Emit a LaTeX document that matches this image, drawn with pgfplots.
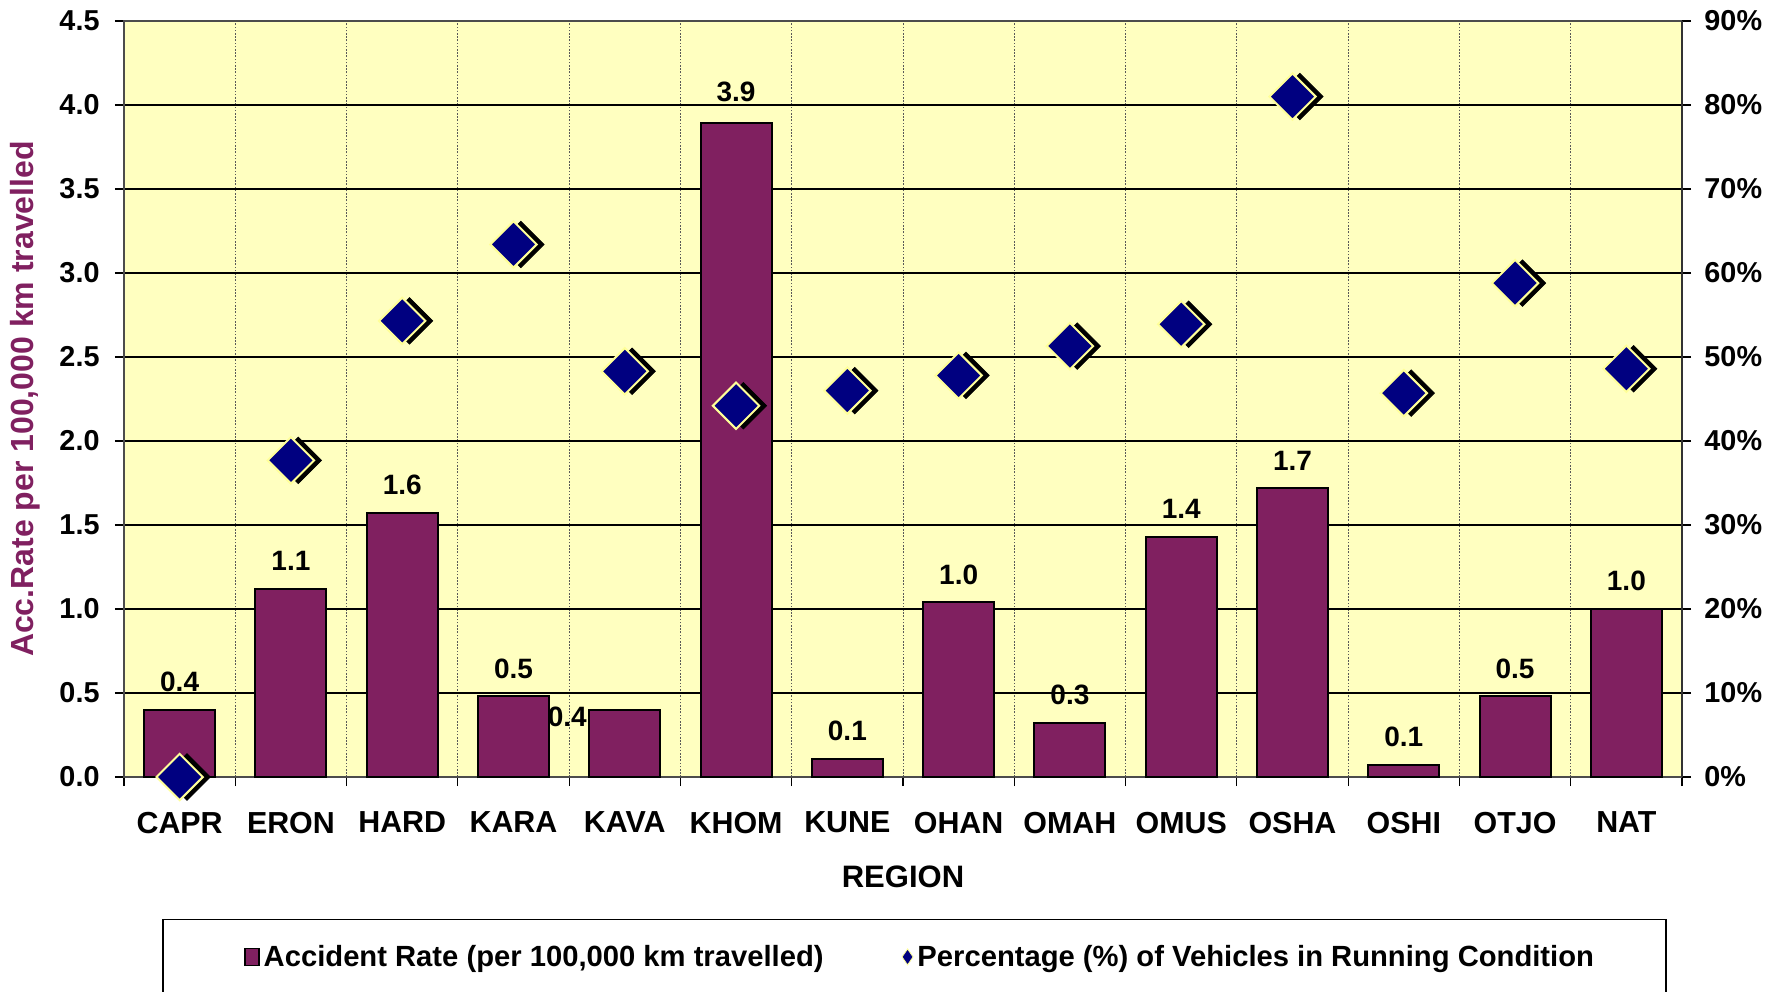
\documentclass[border=0pt]{standalone}
\usepackage{fontspec}
\setmainfont{Liberation Sans}
\usepackage{pgfplots}
\usepackage{pgfplotstable}
\pgfplotsset{compat=1.18}
\pgfplotsset{/pgf/number format/assume math mode=true}
\definecolor{barpurple}{RGB}{128,32,96}
\definecolor{plotbg}{RGB}{255,255,192}
\definecolor{dianavy}{RGB}{0,0,128}
\definecolor{diaedge}{RGB}{255,255,153}

% accident rate per region, label offsets (pt)
\pgfplotstableread{
x rate dx dy
0 0.40 0 8.5
1 1.12 0 8.5
2 1.57 0 8.5
3 0.48 0 8.5
4 0.40 -28.75 -9
5 3.89 0 10.5
6 0.11 0 8.5
7 1.04 0 8.5
8 0.32 0 8.5
9 1.43 0 8.5
10 1.72 0 8.5
11 0.07 0 8.5
12 0.48 0 8.5
13 1.00 0 8.5
}\ratetable

% percentage of vehicles in running condition
\pgfplotstableread{
x pct
0 0
1 37.7
2 54.3
3 63.4
4 48.3
5 44.2
6 46.0
7 47.8
8 51.3
9 53.9
10 81.0
11 45.7
12 58.8
13 48.6
}\pcttable

\begin{document}
\begin{tikzpicture}[font=\bfseries\fontsize{14.4}{17}\selectfont]
\begin{axis}[
  scale only axis, width=779pt, height=378pt,
  xmin=-0.5, xmax=13.5, ymin=0, ymax=4.5,
  axis background/.style={fill=plotbg},
  axis line style={black!70, line width=1pt},
  ytick={0,0.5,1,1.5,2,2.5,3,3.5,4,4.5},
  ytick pos=left,
  yticklabel style={xshift=-4.2pt, /pgf/number format/.cd, fixed, fixed zerofill, precision=1},
  xtick={0,...,13},
  xticklabels={CAPR,ERON,HARD,KARA,KAVA,KHOM,KUNE,OHAN,OMAH,OMUS,OSHA,OSHI,OTJO,NAT},
  xticklabel style={yshift=-9.5pt, font=\bfseries\fontsize{15.2}{18}\selectfont},
  minor xtick={-0.5,0.5,...,13.5},
  xtick pos=bottom,
  ymajorgrids, xminorgrids,
  major grid style={black, line width=0.6pt},
  minor grid style={black!65, dash pattern=on 0.8pt off 0.8pt, line width=0.5pt},
  tick align=outside,
  major tick length=4.5pt, minor tick length=4.5pt,
  tick style={black, line width=0.6pt},
  major x tick style={draw=none},
  xlabel={REGION},
  xlabel style={at={(axis description cs:0.5,-0.1323)}, anchor=center,
    font=\bfseries\fontsize{15.5}{18}\selectfont},
  ylabel={Acc.Rate per 100,000 km travelled},
  ylabel style={at={(axis description cs:-0.0635,0.5)}, anchor=center,
    text=barpurple, font=\bfseries\fontsize{16}{19}\selectfont},
]
\addplot[ybar, bar width=0.637, bar shift=0pt, fill=barpurple, draw=black, line width=1pt,
  point meta=y,
  visualization depends on={\thisrow{dx} \as \labdx},
  visualization depends on={\thisrow{dy} \as \labdy},
  nodes near coords={\pgfmathprintnumber[fixed,fixed zerofill,precision=1]{\pgfplotspointmeta}},
  every node near coord/.append style={anchor=south, inner sep=0pt, text=black,
    xshift=\labdx pt, yshift=\labdy pt, font=\bfseries\fontsize{14}{17}\selectfont},
] table[x=x, y=rate] {\ratetable};
\end{axis}

\begin{axis}[
  scale only axis, width=779pt, height=378pt,
  xmin=-0.5, xmax=13.5, ymin=0, ymax=90,
  hide x axis, axis y line*=right,
  axis line style={black!80, line width=1pt},
  ytick={0,10,...,90},
  yticklabel={\pgfmathprintnumber{\tick}\%},
  yticklabel style={xshift=3.2pt},
  tick align=outside, major tick length=4.5pt,
  tick style={black, line width=0.6pt},
  clip=false,
  legend columns=2,
  legend style={at={(axis description cs:0.5116,-0.238)}, anchor=center,
    draw=none, fill=none,
    /tikz/every even column/.append style={column sep=37pt},
    font=\bfseries\fontsize{14.6}{17}\selectfont},
]
\addlegendimage{legend image code/.code={
  \draw[fill=barpurple, draw=black, line width=0.8pt] (0pt,-4.25pt) rectangle (7pt,4.25pt);}}
\addlegendentry{Accident Rate (per 100,000 km travelled)}
\addplot[only marks, mark=square*, mark size=8.2pt, forget plot,
  mark options={rotate=45, fill=black, draw=black, xshift=2.6pt, yshift=-2.6pt}]
  table[x=x, y=pct] {\pcttable};
\addplot[only marks, mark=square*, mark size=8.2pt,
  mark options={rotate=45, fill=dianavy, draw=diaedge, line width=1pt},
  legend image code/.code={
    \draw[fill=dianavy, draw=diaedge, line width=0.4pt]
      (0pt,0pt) -- (2.75pt,4pt) -- (5.5pt,0pt) -- (2.75pt,-4pt) -- cycle;}]
  table[x=x, y=pct] {\pcttable};
\addlegendentry{Percentage (\%) of Vehicles in Running Condition}
\draw[black, line width=0.6pt] (axis description cs:0.025,-0.189)
  rectangle (axis description cs:0.9897,-0.33);
\end{axis}
\pgfresetboundingbox
\useasboundingbox (-62pt,-107pt) rectangle (832.5pt,388.5pt);
\end{tikzpicture}
\end{document}
